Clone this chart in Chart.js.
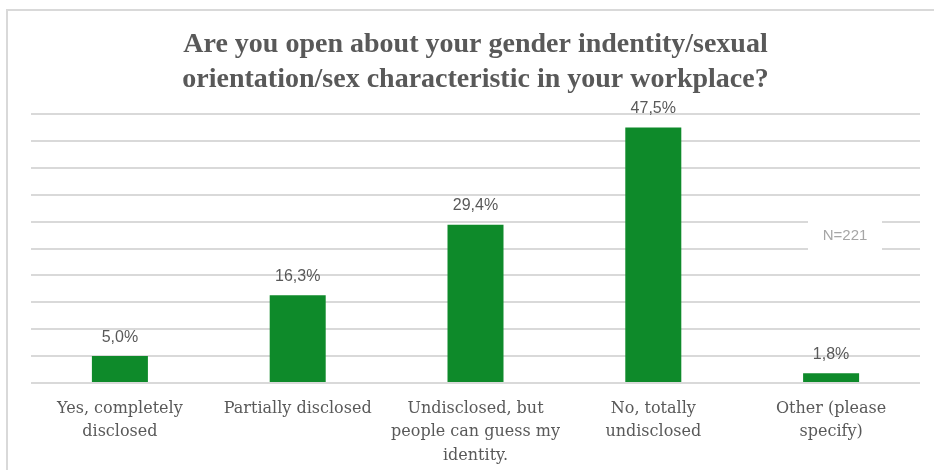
<!DOCTYPE html>
<html>
<head>
<meta charset="utf-8">
<script src="https://cdn.jsdelivr.net/npm/chart.js@4/dist/chart.umd.min.js"></script>
<style>
  html, body { margin: 0; padding: 0; background: #fff; }
  #wrap { width: 934px; height: 470px; position: relative; }
</style>
</head>
<body>
<div id="wrap"><canvas id="chart" width="934" height="470"></canvas></div>
<script>
var categories = [
  ['Yes, completely', 'disclosed'],
  ['Partially disclosed'],
  ['Undisclosed, but', 'people can guess my', 'identity.'],
  ['No, totally', 'undisclosed'],
  ['Other (please', 'specify)']
];
var shares = [5.0, 16.3, 29.4, 47.5, 1.8];
var titleLines = [
  'Are you open about your gender indentity/sexual',
  'orientation/sex characteristic in your workplace?'
];
var noteText = 'N=221';

var green = '#0e8a2a';
var textGray = '#595959';

// frame, N=221 note and value labels
var extras = {
  id: 'extras',
  beforeDraw: function(chart) {
    var c = chart.ctx;
    c.save();
    c.fillStyle = '#fff';
    c.fillRect(0, 0, chart.width, chart.height);
    c.strokeStyle = '#d9d9d9';
    c.lineWidth = 2;
    c.beginPath();
    c.moveTo(7, chart.height);
    c.lineTo(7, 10);
    c.lineTo(chart.width, 10);
    c.stroke();
    c.restore();
  },
  afterDraw: function(chart) {
    var c = chart.ctx;
    var meta = chart.getDatasetMeta(0);
    c.save();
    c.font = '16px "Liberation Sans", Arial, sans-serif';
    c.fillStyle = textGray;
    c.textAlign = 'center';
    c.textBaseline = 'middle';
    meta.data.forEach(function(bar, i) {
      c.fillText(shares[i].toFixed(1).replace('.', ',') + '%', bar.x, bar.y - 19);
    });
    // note box
    var y = chart.scales.y;
    var cx = 845, cy = y.getPixelForValue(27.3);
    c.fillStyle = '#fff';
    c.fillRect(cx - 37, cy - 22, 74, 44);
    c.font = '15px "Liberation Sans", Arial, sans-serif';
    c.fillStyle = '#a6a6a6';
    c.fillText(noteText, cx, cy);
    c.restore();
  }
};

new Chart(document.getElementById('chart'), {
  type: 'bar',
  data: {
    labels: categories,
    datasets: [{
      data: shares,
      backgroundColor: green,
      borderWidth: 0,
      categoryPercentage: 1,
      barPercentage: 0.315
    }]
  },
  options: {
    responsive: false,
    animation: false,
    layout: { padding: { left: 31, right: 14, top: 0, bottom: 0 } },
    plugins: {
      legend: { display: false },
      tooltip: { enabled: false },
      title: {
        display: true,
        text: titleLines,
        color: textGray,
        font: { family: '"Liberation Serif", serif', size: 28, weight: 'bold', lineHeight: 1.25 },
        padding: { top: 27.5, bottom: 16.5 }
      }
    },
    scales: {
      x: {
        grid: { display: false, drawTicks: false },
        border: { display: false },
        ticks: {
          color: textGray,
          padding: 14.4,
          maxRotation: 0,
          autoSkip: false,
          font: { family: '"DejaVu Serif", serif', size: 16, lineHeight: 1.45 }
        },
        afterFit: function(scale) { scale.height = 87; }
      },
      y: {
        min: 0,
        max: 50,
        ticks: { display: false, stepSize: 5 },
        grid: { color: '#d9d9d9', lineWidth: 2, drawTicks: false },
        border: { display: false },
        afterFit: function(scale) { scale.width = 0; }
      }
    }
  },
  plugins: [extras]
});
</script>
</body>
</html>
